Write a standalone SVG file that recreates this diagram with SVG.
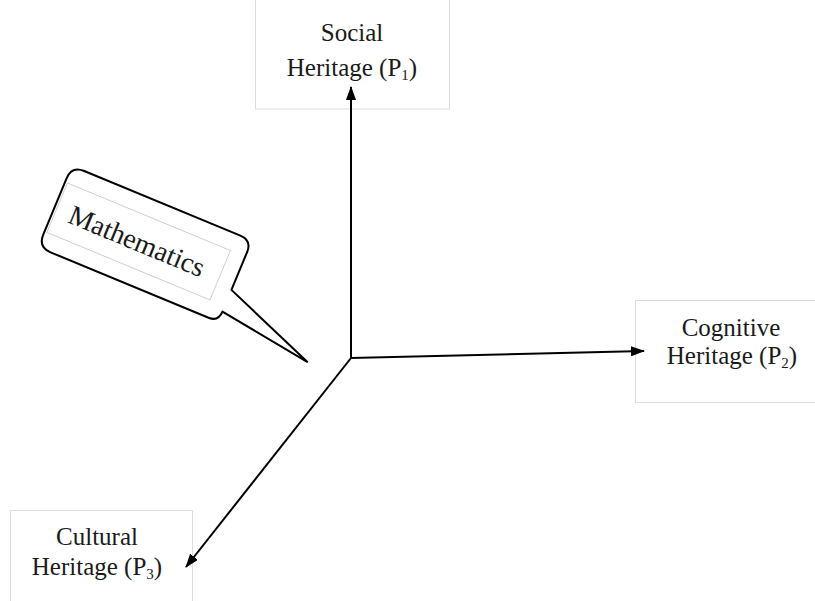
<svg xmlns="http://www.w3.org/2000/svg" width="815" height="601" viewBox="0 0 815 601">
<defs>
<style>
.box{fill:#fff;stroke:#dcdcdc;stroke-width:1}
.lbl{font-family:"Liberation Serif","Times New Roman",serif;font-size:25px;fill:#1a1a1a;text-anchor:middle}
.sub{font-size:15px}
.edge{stroke:#000;stroke-width:2;fill:none}
</style>
<marker id="ah" viewBox="0 0 14 10" refX="13" refY="5" markerWidth="14" markerHeight="10" markerUnits="userSpaceOnUse" orient="auto">
<path d="M0,0 L14,5 L0,10 Z" fill="#000"/>
</marker>
</defs>
<rect width="815" height="601" fill="#fff"/>
<g id="social">
<rect class="box" x="255.5" y="-1" width="194" height="110"/>
<text class="lbl" x="352" y="41">Social</text>
<text class="lbl" x="352" y="76">Heritage (P<tspan class="sub" dy="4">1</tspan><tspan dy="-4">)</tspan></text>
</g>
<g id="cognitive">
<rect class="box" x="635.5" y="300.5" width="185" height="102"/>
<text class="lbl" x="731" y="336">Cognitive</text>
<text class="lbl" x="732" y="364">Heritage (P<tspan class="sub" dy="4">2</tspan><tspan dy="-4">)</tspan></text>
</g>
<g id="cultural">
<rect class="box" x="10.5" y="510.5" width="182" height="100"/>
<text class="lbl" x="97" y="545">Cultural</text>
<text class="lbl" x="97" y="575">Heritage (P<tspan class="sub" dy="4">3</tspan><tspan dy="-4">)</tspan></text>
</g>
<g id="mathematics" transform="translate(145,243.8) rotate(22.5)">
<path d="M-84,-44 H85 Q97.5,-44 97.5,-31.5 V9.5 L195,47 L97.5,33 Q97.5,44 87,44 H-84 Q-97.5,44 -97.5,30.5 V-30.5 Q-97.5,-44 -84,-44 Z" fill="#fff" stroke="#000" stroke-width="2" stroke-linejoin="round"/>
<rect x="-95" y="-26.5" width="176.5" height="53.5" fill="none" stroke="#c8c8c8" stroke-width="0.8"/>
<text class="lbl" x="-8.5" y="10" style="font-size:28px">Mathematics</text>
</g>
<g id="connectors">
<line class="edge" x1="351" y1="358" x2="351" y2="87" marker-end="url(#ah)"/>
<line class="edge" x1="351" y1="358" x2="644" y2="351" marker-end="url(#ah)"/>
<line class="edge" x1="351" y1="358" x2="186" y2="567" marker-end="url(#ah)"/>
</g>
</svg>
